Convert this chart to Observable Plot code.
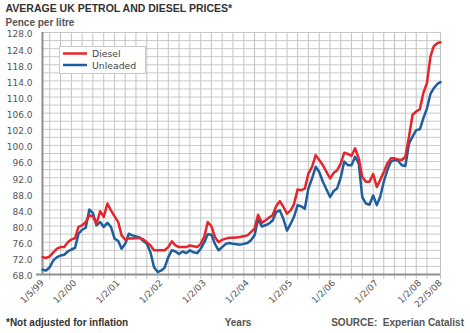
<!DOCTYPE html>
<html><head><meta charset="utf-8">
<script src="https://cdn.jsdelivr.net/npm/d3@7"></script>
<script src="https://cdn.jsdelivr.net/npm/@observablehq/plot@0.6"></script>
<style>
body{margin:0;background:#fff;}
#chart{width:470px;height:333px;}
</style></head><body>
<div id="chart"></div>
<script>
// ---- data ----
const dates = [
"1999-05","1999-06","1999-07","1999-08","1999-09","1999-10","1999-11","1999-12",
"2000-01","2000-02","2000-03","2000-04","2000-05","2000-06","2000-07","2000-08","2000-09","2000-10","2000-11","2000-12",
"2001-01","2001-02","2001-03","2001-04","2001-05","2001-06","2001-08","2001-09","2001-10","2001-11","2001-12",
"2002-01","2002-02","2002-03","2002-04","2002-05","2002-06","2002-07","2002-08","2002-09","2002-10","2002-11","2002-12",
"2003-01","2003-02","2003-03","2003-04","2003-05","2003-06","2003-07","2003-08","2003-09","2003-10","2003-11","2003-12",
"2004-01","2004-02","2004-03","2004-04","2004-05","2004-06","2004-07","2004-08","2004-09","2004-10","2004-11","2004-12",
"2005-01","2005-02","2005-03","2005-04","2005-05","2005-06","2005-07","2005-08","2005-09","2005-10","2005-11",
"2006-01","2006-02","2006-03","2006-04","2006-05","2006-06","2006-07","2006-08","2006-09","2006-10","2006-11","2006-12",
"2007-01","2007-02","2007-03","2007-04","2007-05","2007-06","2007-07","2007-08","2007-09","2007-10","2007-11","2007-12",
"2008-01","2008-02","2008-03","2008-04","2008-05","2008-05-08","2008-05-16","2008-05-22"];
const diesel = [
72.3,72.1,72.5,73.5,74.4,74.8,74.8,76.0,76.7,77.0,
79.8,80.2,81.0,82.7,82.4,80.6,83.7,82.3,85.6,83.9,
82.4,81.0,77.7,76.6,77.0,76.9,77.1,76.7,76.0,75.2,
74.0,74.0,74.0,74.0,74.8,76.2,75.2,74.8,74.8,74.8,
75.2,75.0,74.8,75.6,77.5,81.0,80.0,77.3,76.0,76.6,
76.9,77.1,77.1,77.2,77.3,77.5,77.7,78.5,79.4,82.8,
80.8,81.4,82.1,82.7,84.9,86.2,84.8,83.1,83.9,85.4,
89.1,88.9,89.3,93.0,94.7,97.6,96.4,95.1,91.8,93.2,
93.8,95.5,98.2,97.9,97.4,99.3,96.8,92.2,91.0,91.0,
92.9,89.7,91.4,93.4,95.5,96.8,96.8,96.5,96.4,97.2,
102.2,107.6,108.4,109.0,113.0,115.5,122.1,124.6,125.4,125.6];
const unleaded = [
69.2,69.0,69.8,71.5,72.3,72.7,72.9,73.7,74.2,74.6,
78.1,79.1,79.6,84.1,83.2,80.2,81.0,79.8,80.8,79.8,
76.9,76.3,74.4,75.6,78.1,77.7,77.2,76.3,75.6,73.5,
69.8,68.6,69.0,69.7,72.3,74.0,73.7,73.1,73.7,73.3,
74.0,73.5,73.3,74.4,76.0,78.0,77.9,75.6,74.0,74.8,
75.6,75.8,75.6,75.5,75.4,75.6,75.8,76.5,77.7,81.8,
79.9,80.2,80.6,81.4,83.5,83.9,81.8,78.9,80.6,82.3,
85.2,84.9,84.3,89.3,91.8,94.7,93.4,91.0,87.2,88.7,
89.3,92.0,96.0,95.1,95.1,97.2,95.5,87.2,85.6,85.3,
87.6,85.2,87.2,91.0,93.9,96.0,96.4,96.2,95.1,94.9,
100.5,102.2,103.8,104.0,106.7,109.2,112.8,114.2,115.3,115.7];
const seriesNames = ["Diesel", "Unleaded"];
const yTickValues = [68,72,76,80,84,88,92,96,100,104,108,112,116,120,124,128];
const yTickLabels = ["68.0","72.0","76.0","80.0","84.0","88.0","92.0","96.0","100.0","102.0","106.0","110.0","114.0","118.0","124.0","128.0"];
const xTickDates = ["1999-05-01","2000-02-01","2001-02-01","2002-02-01","2003-02-01","2004-02-01","2005-02-01","2006-02-01","2007-02-01","2008-02-01","2008-05-22"];
const xTickLabels = ["1/5/99","1/2/00","1/2/01","1/2/02","1/2/03","1/2/04","1/2/05","1/2/06","1/2/07","1/2/08","22/5/08"];
const titleText = "AVERAGE UK PETROL AND DIESEL PRICES*";
const subtitleText = "Pence per litre";
const noteText = "*Not adjusted for inflation";
const xTitle = "Years";
const sourceText = "SOURCE:  Experian Catalist";

// ---- build ----
const colors = {Diesel: "#e5252b", Unleaded: "#1e5d9e"};
const rows = [];
dates.forEach((d, i) => {
  rows.push({date: new Date(d), price: diesel[i], fuel: "Diesel"});
  rows.push({date: new Date(d), price: unleaded[i], fuel: "Unleaded"});
});
const W = 470, H = 333, ML = 42, MR = 30, MT = 32, MB = 59;
const xStart = new Date("1999-05-01"), xBreak = new Date("2008-05-01"), xEnd = new Date("2008-05-22");
const gridDates = d3.utcMonth.every(3).range(xStart, new Date("2008-05-02")).concat([xEnd]);
const xTicks = xTickDates.map(d => new Date(d));
const xLab = new Map(xTicks.map((d, i) => [+d, xTickLabels[i]]));

const plot = Plot.plot({
  width: W, height: H,
  marginLeft: ML, marginRight: MR, marginTop: MT, marginBottom: MB,
  style: {fontFamily: "'DejaVu Sans', sans-serif", fontSize: "9px", color: "#555", background: "#fff"},
  x: {type: "utc", domain: [xStart, xBreak, xEnd], range: [ML, 430, W - MR]},
  y: {domain: [68, 128]},
  marks: [
    Plot.ruleY(d3.range(68, 129, 2), {stroke: "#c9c9c9", strokeWidth: 1}),
    Plot.ruleX(gridDates, {stroke: "#c3c3c3", strokeWidth: 1, insetBottom: -5}),
    Plot.ruleX([xStart], {stroke: "#8f8f8f", strokeWidth: 2}),
    Plot.ruleY([68], {stroke: "#8f8f8f", strokeWidth: 2, insetLeft: -6}),
    Plot.axisY({ticks: yTickValues, tickFormat: d => yTickLabels[yTickValues.indexOf(d)], tickSize: 0, tickPadding: 10, dy: 2, label: null, fill: "#555", fontSize: 9}),
    Plot.axisX({ticks: xTicks, tickFormat: d => xLab.get(+d), tickRotate: -45, tickSize: 0, tickPadding: 7, label: null, fill: "#555", fontSize: 9}),
    Plot.line(rows.filter(r => r.fuel === "Unleaded"), {x: "date", y: "price", stroke: colors.Unleaded, strokeWidth: 2.5}),
    Plot.line(rows.filter(r => r.fuel === "Diesel"), {x: "date", y: "price", stroke: colors.Diesel, strokeWidth: 2.5})
  ]
});
document.getElementById("chart").appendChild(plot);

const svg = d3.select(plot);
const bold = "'Liberation Sans', Arial, sans-serif";
function txt(x, y, s, size, fill, anchor, family) {
  svg.append("text").attr("x", x).attr("y", y).attr("font-family", family || bold)
    .attr("font-weight", "bold").attr("font-size", size).attr("fill", fill)
    .attr("text-anchor", anchor || "start").style("white-space", "pre").text(s);
}
txt(5.5, 12, titleText, 10.5, "#333");
txt(5.5, 25.5, subtitleText, 10, "#555");
txt(6, 326, noteText, 10, "#333");
txt(238, 326, xTitle, 10, "#555", "middle");
txt(464, 326, sourceText, 10, "#555", "end");

// legend
const lg = svg.append("g");
lg.append("rect").attr("x", 59.5).attr("y", 46.5).attr("width", 86).attr("height", 27)
  .attr("fill", "#fff").attr("stroke", "#c8c8c8");
seriesNames.forEach((name, i) => {
  const yy = 53.5 + i * 11.5;
  lg.append("line").attr("x1", 63).attr("x2", 87).attr("y1", yy).attr("y2", yy)
    .attr("stroke", colors[name]).attr("stroke-width", 2.5);
  lg.append("text").attr("x", 92).attr("y", yy + 3.5).attr("text-anchor", "start")
    .attr("font-family", "'DejaVu Sans', sans-serif")
    .attr("font-size", 9.3).attr("fill", "#444").text(name);
});
</script>
</body></html>
